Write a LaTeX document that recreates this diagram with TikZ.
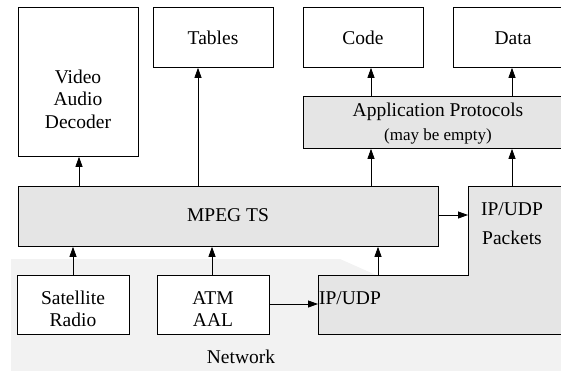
\documentclass[tikz,border=0pt]{standalone}
\usepackage{fontspec}
\setmainfont{Liberation Serif}
\newfontfamily\tms{Liberation Serif}
\usetikzlibrary{arrows.meta}
\definecolor{boxgray}{HTML}{E5E5E5}
\definecolor{netgray}{HTML}{F2F2F2}
\begin{document}
\begin{tikzpicture}[x=1pt,y=-1pt,
  box/.style={draw=black,line width=0.8pt,fill=white,rectangle,inner sep=0pt,anchor=north west},
  gbox/.style={box,fill=boxgray},
  lbl/.style={inner sep=0pt,align=center,font=\tms\fontsize{19.5}{22.5}\selectfont},
  small/.style={inner sep=0pt,align=center,font=\tms\fontsize{17}{20}\selectfont},
  arr/.style={-{Triangle[length=10pt,width=7pt]},line width=0.8pt}]
\useasboundingbox (0,0) rectangle (561,370);
\begin{scope}
\clip (0,0) rectangle (561,370);
% network background
\fill[netgray] (11,259) -- (340,259) -- (385,279) -- (575,279) -- (575,375) -- (11,375) -- cycle;
\node[lbl] (net) at (241,357) {Network};
% top boxes
\node[box,minimum width=120pt,minimum height=149pt] (dec) at (18,7) {};
\node[lbl] (dect) at (78,99) {Video\\Audio\\Decoder};
\node[box,minimum width=120pt,minimum height=60pt] (tables) at (153,7) {};
\node[lbl] (tablest) at (213,38) {Tables};
\node[box,minimum width=120pt,minimum height=60pt] (code) at (303,7) {};
\node[lbl] (codet) at (363,38) {Code};
\node[box,minimum width=120pt,minimum height=60pt] (data) at (453,7) {};
\node[lbl] (datat) at (513,38) {Data};
% application protocols
\node[gbox,minimum width=270pt,minimum height=52pt] (app) at (303,96) {};
\node[lbl] (appt) at (438,112) {Application Protocols};
\node[small] (appe) at (438,136) {(may be empty)};
% MPEG TS
\node[gbox,minimum width=420pt,minimum height=60pt] (mpeg) at (18,186) {};
\node[lbl] (mpegt) at (228,215) {MPEG TS};
% network boxes
\node[box,minimum width=112pt,minimum height=59pt] (sat) at (17,275) {};
\node[lbl] (satt) at (73,309) {Satellite\\Radio};
\node[box,minimum width=112pt,minimum height=59pt] (atm) at (157,275) {};
\node[lbl] (atmt) at (213,309) {ATM\\AAL};
% IP/UDP L-shape
\draw[line width=0.8pt,fill=boxgray] (468,186) -- (575,186) -- (575,334) -- (318,334) -- (318,275) -- (468,275) -- cycle;
\coordinate (ipleft) at (318,304);
\coordinate (iptop) at (378,275);
\coordinate (pkleft) at (468,215);
\coordinate (pktop) at (512,186);
\node[lbl] (ipt) at (350,298) {IP/UDP};
\node[lbl,text depth=0pt] (pkt) at (512,224) {IP/UDP\\[6.5pt]Packets};
% helper x positions
\coordinate (x73) at (73,0);
\coordinate (x79) at (79,0);
\coordinate (x198) at (198,0);
\coordinate (x212) at (212,0);
\coordinate (x371) at (371,0);
\coordinate (x512) at (512,0);
% arrows
\draw[arr] (sat.north -| x73) -- (mpeg.south -| x73);
\draw[arr] (atm.north -| x212) -- (mpeg.south -| x212);
\draw[arr] (iptop) -- (mpeg.south -| iptop);
\draw[arr] (atm.east |- ipleft) -- (ipleft);
\draw[arr] (mpeg.east |- pkleft) -- (pkleft);
\draw[arr] (mpeg.north -| x79) -- (dec.south -| x79);
\draw[arr] (mpeg.north -| x198) -- (tables.south -| x198);
\draw[arr] (mpeg.north -| x371) -- (app.south -| x371);
\draw[arr] (pktop) -- (app.south -| x512);
\draw[arr] (app.north -| x371) -- (code.south -| x371);
\draw[arr] (app.north -| x512) -- (data.south -| x512);
\end{scope}
\end{tikzpicture}
\end{document}
